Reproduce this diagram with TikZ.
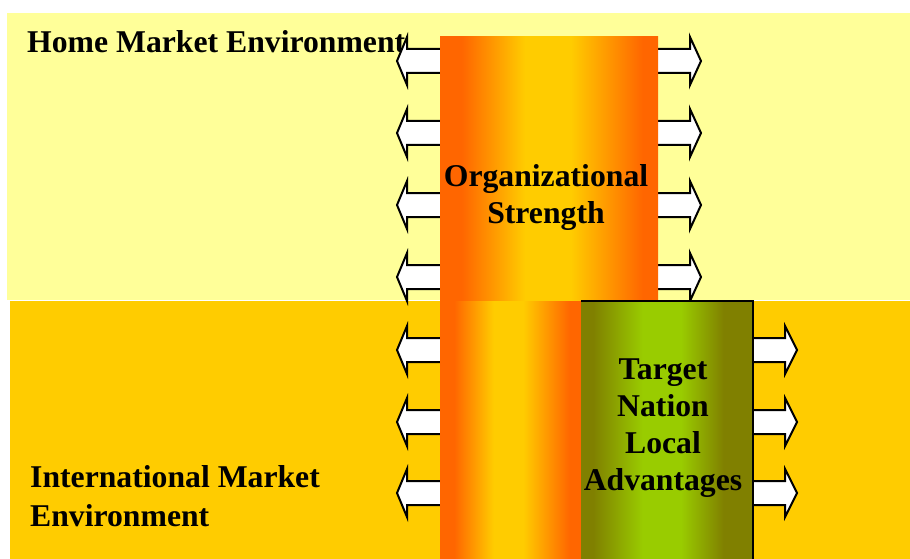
\documentclass[tikz,border=0pt]{standalone}
\usepackage{fontspec}
\setmainfont{Liberation Serif}
\definecolor{homeyellow}{HTML}{FFFF99}
\definecolor{intlyellow}{HTML}{FFCC00}
\definecolor{orgorange}{HTML}{FF6600}
\definecolor{tnolive}{HTML}{808000}
\definecolor{tnlime}{HTML}{99CC00}
\pgfdeclarehorizontalshading{orgshade}{100bp}{color(0bp)=(orgorange); color(30bp)=(orgorange);
  color(44.5bp)=(intlyellow); color(55bp)=(intlyellow); color(71.5bp)=(orgorange); color(100bp)=(orgorange)}
\pgfdeclarehorizontalshading{orglowshade}{100bp}{color(0bp)=(orgorange); color(30bp)=(orgorange);
  color(44bp)=(intlyellow); color(54.5bp)=(intlyellow); color(71bp)=(orgorange); color(100bp)=(orgorange)}
\pgfdeclarehorizontalshading{tnshade}{100bp}{color(0bp)=(tnolive); color(28.5bp)=(tnolive);
  color(43bp)=(tnlime); color(54bp)=(tnlime); color(66.5bp)=(tnolive); color(100bp)=(tnolive)}

\begin{document}
\begin{tikzpicture}[x=1pt,y=-1pt,
    lbl/.style={font=\fontsize{31.7}{37}\selectfont\bfseries, inner sep=0pt, align=center},
    blockarr/.style={draw=black, line width=2pt, fill=white, line join=miter}]
    \useasboundingbox (0,0) rectangle (910,559);
    % the two markets
    \fill[homeyellow] (7,13) rectangle (910,300);
    \fill[intlyellow] (10,301) rectangle (910,559);
    \node[lbl, anchor=base west] (home) at (27,53) {Home Market Environment};
    \node[lbl, anchor=west, align=left, font=\fontsize{31.7}{39}\selectfont\bfseries] (intl) at (30,496) {International Market\\Environment};
    % arrows out of the columns
    \foreach \y in {61,133,205,277}{
        \draw[blockarr] (448,\y-12) -- (407,\y-12) -- (407,\y-24) -- (397,\y) -- (407,\y+24) -- (407,\y+12) -- (448,\y+12) -- cycle;
        \draw[blockarr] (650,\y-12) -- (690,\y-12) -- (690,\y-24) -- (701,\y) -- (690,\y+24) -- (690,\y+12) -- (650,\y+12) -- cycle;
    }
    \foreach \y in {350,422,493}{
        \draw[blockarr] (448,\y-12) -- (407,\y-12) -- (407,\y-24) -- (397,\y) -- (407,\y+24) -- (407,\y+12) -- (448,\y+12) -- cycle;
        \draw[blockarr] (745,\y-12) -- (785,\y-12) -- (785,\y-24) -- (797,\y) -- (785,\y+24) -- (785,\y+12) -- (745,\y+12) -- cycle;
    }
    % columns
    \shade[shading=orgshade] (440,37) rectangle (658,301);
    \node[lbl] (org) at (546,198) {Organizational\\Strength};
    \shade[shading=orglowshade] (440,301) rectangle (581,559);
    \shade[shading=tnshade] (581,301) rectangle (753,559);
    \draw[line width=2pt] (581,301) -- (753,301) -- (753,559);
    \node[lbl] (target) at (663,428) {Target\\Nation\\Local\\Advantages};
\end{tikzpicture}
\end{document}
